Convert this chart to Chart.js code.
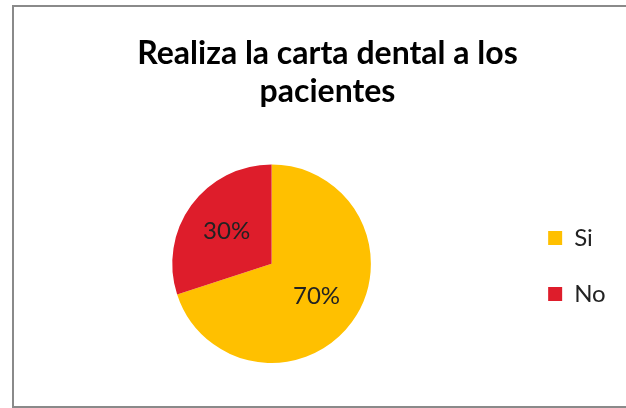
<!DOCTYPE html>
<html>
<head>
<meta charset="utf-8">
<script src="https://cdn.jsdelivr.net/npm/chart.js@4/dist/chart.umd.min.js"></script>
<style>
  html, body { margin: 0; padding: 0; background: #fff; overflow: hidden; width: 626px; height: 408px; }
  #box { position: absolute; left: 12px; top: 5px; width: 640px; height: 399px; border: 2px solid #8a8a8a; background: #fff; }
  canvas { display: block; }
</style>
</head>
<body>
<div id="box"><canvas id="c" width="640" height="399"></canvas></div>
<script>
const titleLines = ["Realiza la carta dental a los", "pacientes"];
const categories = ["Si", "No"];
const values = [70, 30];
const colors = ["#FFC000", "#DE1D2B"];

const pctLabels = {
  id: 'pctLabels',
  afterDatasetsDraw(chart) {
    const ctx = chart.ctx;
    const meta = chart.getDatasetMeta(0);
    ctx.save();
    ctx.font = '24px Lato';
    ctx.fillStyle = '#222';
    ctx.textAlign = 'center';
    ctx.textBaseline = 'middle';
    meta.data.forEach((arc, i) => {
      const p = arc.getProps(['x', 'y', 'startAngle', 'endAngle', 'outerRadius'], true);
      const mid = (p.startAngle + p.endAngle) / 2;
      const r = p.outerRadius * 0.56;
      ctx.fillText(values[i] + '%', p.x + Math.cos(mid) * r, p.y + Math.sin(mid) * r);
    });
    ctx.restore();
  }
};

new Chart(document.getElementById('c'), {
  type: 'pie',
  data: {
    labels: categories,
    datasets: [{ data: values, backgroundColor: colors, borderWidth: 0 }]
  },
  options: {
    responsive: false,
    animation: false,
    layout: { padding: { left: 13, right: 26, top: 0, bottom: 43 } },
    plugins: {
      title: {
        display: true,
        text: titleLines,
        color: '#000',
        font: { family: 'Lato', size: 32, weight: 'bold', lineHeight: 1.2 },
        padding: { top: 27, bottom: 53.6 }
      },
      legend: {
        position: 'right',
        title: { display: true, text: ' ', font: { size: 10, lineHeight: 1 }, padding: { top: 152, bottom: 0 } },
        labels: {
          color: '#222',
          font: { family: 'Lato', size: 24 },
          boxWidth: 14,
          boxHeight: 14,
          padding: 32,
          generateLabels(chart) {
            const items = Chart.controllers.pie.overrides.plugins.legend.labels.generateLabels(chart);
            items.forEach(it => { it.text = it.text + '  '; it.lineWidth = 0; });
            return items;
          }
        }
      },
      tooltip: { enabled: false }
    }
  },
  plugins: [pctLabels]
});
</script>
</body>
</html>
